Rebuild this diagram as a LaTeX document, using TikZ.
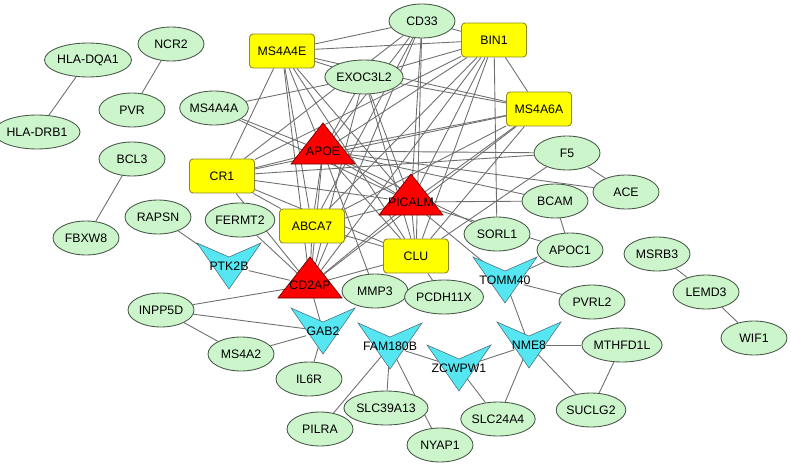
\documentclass[tikz,border=0pt]{standalone}
\usepackage{fontspec}
\newfontfamily\genefont{Liberation Sans}
\newcommand\genesize{\genefont\fontsize{7}{8}\selectfont}
\usetikzlibrary{shapes.geometric}
\pgfdeclarelayer{edges}
\pgfsetlayers{edges,main}
\definecolor{genegreen}{HTML}{CCF5CC}
\definecolor{geneline}{HTML}{4A5A4A}
\definecolor{hubyellow}{HTML}{FFFF00}
\definecolor{hubline}{HTML}{8A8A20}
\definecolor{apored}{HTML}{FF0000}
\definecolor{veecyan}{HTML}{55E6F2}
\definecolor{linkgray}{HTML}{6E6E6E}
\tikzset{
  gene/.style={ellipse, draw=geneline, fill=genegreen, line width=0.5pt,
    minimum width=1.32cm, minimum height=0.68cm, inner sep=0pt, font=\genesize},
  hub/.style={rectangle, rounded corners=2pt, draw=hubline, fill=hubyellow, line width=0.5pt,
    minimum width=1.3cm, minimum height=0.68cm, inner sep=0pt, font=\genesize},
  tag/.style={inner sep=0pt, font=\genesize},
  link/.style={draw=linkgray, line width=0.5pt}
}
\newcommand\trinode[4]{%
  \filldraw[fill=apored, draw=red!45!black, line width=0.4pt]
    (#2,#3-28) -- (#2+32,#3+13) -- (#2-32,#3+13) -- cycle;
  \node[tag] (#1) at (#2,#3) {#4};}
\newcommand\veenode[4]{%
  \filldraw[fill=veecyan, draw=cyan!40!black, line width=0.3pt]
    (#2-32,#3-23) -- (#2,#3-9) -- (#2+32,#3-23) -- (#2,#3+23) -- cycle;
  \node[tag] (#1) at (#2,#3) {#4};}
\begin{document}
\begin{tikzpicture}[x=0.02cm, y=-0.02cm]
  \useasboundingbox (0,0) rectangle (791,466);

  \node[gene] (hladqa1) at (88,60) {HLA-DQA1};
  \node[gene] (hladrb1) at (37,132) {HLA-DRB1};
  \node[gene] (ncr2) at (171,44) {NCR2};
  \node[gene] (pvr) at (132,110) {PVR};
  \node[gene] (bcl3) at (132,159) {BCL3};
  \node[gene] (fbxw8) at (86,238) {FBXW8};
  \node[gene] (rapsn) at (158,217) {RAPSN};
  \node[gene] (cd33) at (422,21) {CD33};
  \node[gene] (exoc3l2) at (364,77) {EXOC3L2};
  \node[gene] (ms4a4a) at (214,108) {MS4A4A};
  \node[gene] (fermt2) at (240,220) {FERMT2};
  \node[gene] (f5) at (567,153) {F5};
  \node[gene] (ace) at (626,192) {ACE};
  \node[gene] (bcam) at (555,201) {BCAM};
  \node[gene] (sorl1) at (497,234) {SORL1};
  \node[gene] (apoc1) at (570,250) {APOC1};
  \node[gene] (mmp3) at (375,291) {MMP3};
  \node[gene] (pcdh11x) at (444,297) {PCDH11X};
  \node[gene] (pvrl2) at (592,302) {PVRL2};
  \node[gene] (msrb3) at (657,254) {MSRB3};
  \node[gene] (lemd3) at (706,292) {LEMD3};
  \node[gene] (wif1) at (754,338) {WIF1};
  \node[gene] (inpp5d) at (161,310) {INPP5D};
  \node[gene] (ms4a2) at (241,354) {MS4A2};
  \node[gene] (il6r) at (309,379) {IL6R};
  \node[gene] (pilra) at (320,429) {PILRA};
  \node[gene] (slc39a13) at (386,408) {SLC39A13};
  \node[gene] (nyap1) at (440,445) {NYAP1};
  \node[gene] (slc24a4) at (498,419) {SLC24A4};
  \node[gene] (suclg2) at (591,410) {SUCLG2};
  \node[gene] (mthfd1l) at (622,345) {MTHFD1L};

  \node[hub] (ms4a4e) at (282,51) {MS4A4E};
  \node[hub] (bin1) at (494,40) {BIN1};
  \node[hub] (ms4a6a) at (539,109) {MS4A6A};
  \node[hub] (cr1) at (222,176) {CR1};
  \node[hub] (abca7) at (312,226) {ABCA7};
  \node[hub] (clu) at (416,256) {CLU};

  \trinode{apoe}{323}{151}{APOE}
  \trinode{picalm}{411}{202}{PICALM}
  \trinode{cd2ap}{310}{285}{CD2AP}

  \veenode{ptk2b}{229}{266}{PTK2B}
  \veenode{gab2}{323}{331}{GAB2}
  \veenode{tomm40}{505}{280}{TOMM40}
  \veenode{fam180b}{390}{346}{FAM180B}
  \veenode{zcwpw1}{459}{368}{ZCWPW1}
  \veenode{nme8}{529}{345}{NME8}

  \begin{pgfonlayer}{edges}
    \foreach \a [count=\i] in {ms4a4e,bin1,ms4a6a,cr1,abca7,clu,apoe,picalm,cd2ap} {
      \foreach \b [count=\j] in {ms4a4e,bin1,ms4a6a,cr1,abca7,clu,apoe,picalm,cd2ap} {
        \ifnum\j>\i \draw[link] (\a) -- (\b); \fi
      }
    }
    \foreach \b in {ms4a4e,bin1,apoe,cr1,abca7,cd2ap,picalm,clu}
      \draw[link] (cd33) -- (\b);
    \foreach \b in {ms4a4e,ms4a4a,ms4a6a,bin1,apoe,picalm,cd2ap,clu}
      \draw[link] (exoc3l2) -- (\b);
    \foreach \a/\b in {hladqa1/hladrb1, ncr2/pvr, bcl3/fbxw8, msrb3/lemd3, lemd3/wif1,
        rapsn/ptk2b, ptk2b/cd2ap, fermt2/cd2ap, inpp5d/cd2ap, inpp5d/gab2,
        inpp5d/ms4a2, ms4a2/gab2, gab2/il6r, cd2ap/gab2,
        fam180b/pilra, fam180b/slc39a13, fam180b/nyap1, fam180b/zcwpw1,
        zcwpw1/nme8, zcwpw1/slc24a4, nme8/slc24a4, nme8/mthfd1l, nme8/suclg2,
        mthfd1l/suclg2, nme8/tomm40, tomm40/pvrl2, tomm40/apoc1, bcam/apoc1,
        f5/ace, clu/pcdh11x, mmp3/apoe, ms4a4a/apoe, ms4a4a/picalm,
        f5/apoe, f5/clu, f5/cr1, ace/apoe, bcam/apoe, bcam/picalm,
        sorl1/bin1, sorl1/apoe, apoc1/picalm, tomm40/picalm}
      \draw[link] (\a) -- (\b);
  \end{pgfonlayer}
\end{tikzpicture}
\end{document}
